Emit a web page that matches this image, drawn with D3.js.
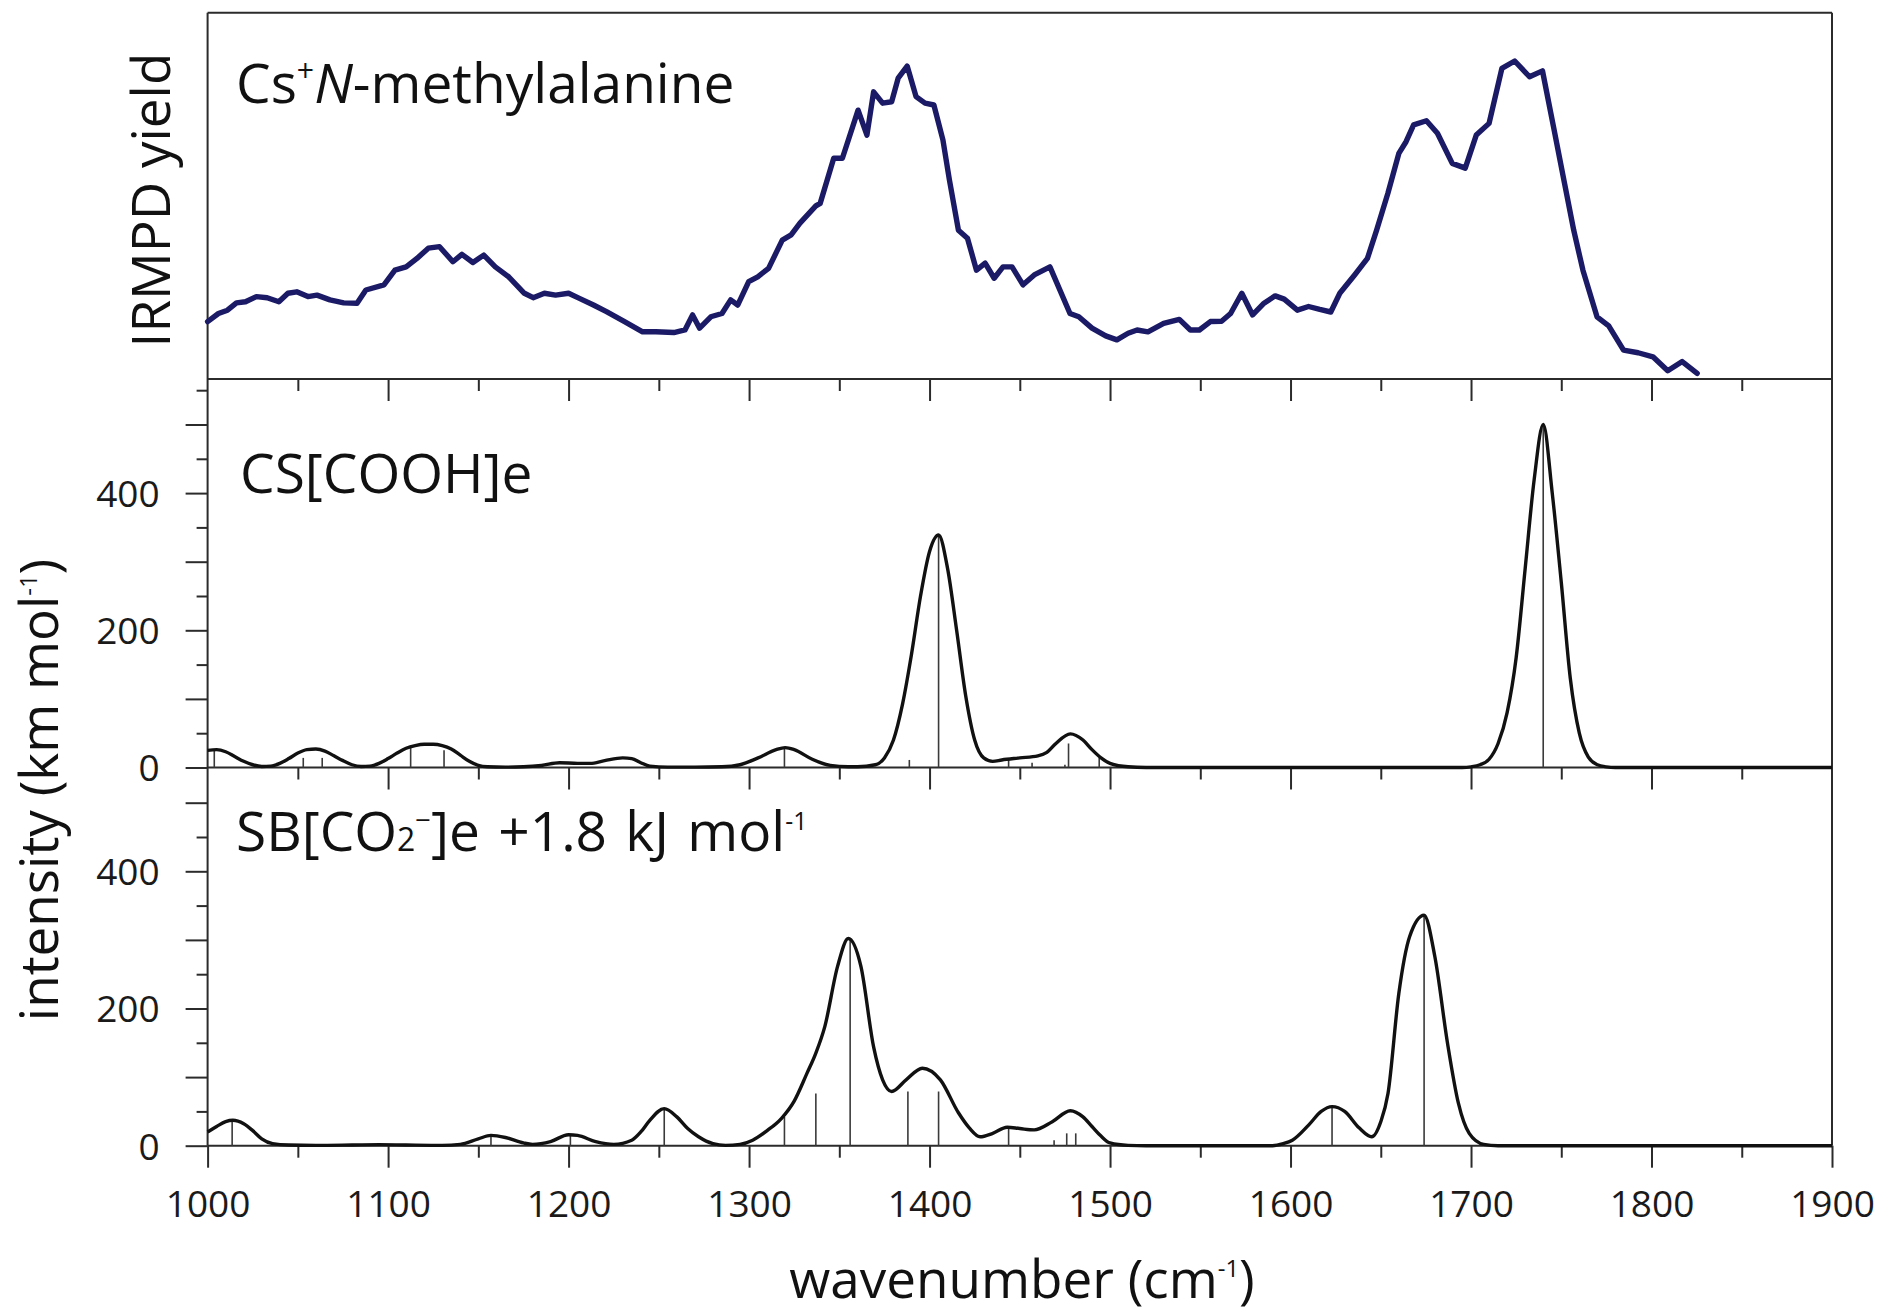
<!DOCTYPE html>
<html>
<head>
<meta charset="utf-8">
<script src="https://cdn.jsdelivr.net/npm/d3@7"></script>
<style>
  body { margin: 0; background: #fff; }
  svg { display: block; font-family: "Open Sans", "Noto Sans", sans-serif; }
</style>
</head>
<body>
<svg id="chart" width="1878" height="1316"></svg>
<script>
// ---- data ----

// experimental IRMPD spectrum: [wavenumber, relative yield]
const irmpd = [
  [1000,0.162],[1006,0.184],[1011,0.193],[1016,0.213],[1021,0.216],[1027,0.23],[1033,0.227],[1039.5,0.216],
  [1044.5,0.239],[1049.4,0.243],[1055.6,0.23],[1060.6,0.234],[1067.8,0.221],[1075.4,0.213],[1082.8,0.212],
  [1087.7,0.248],[1097.7,0.262],[1103.8,0.302],[1110,0.311],[1116,0.334],[1122.3,0.362],[1128.5,0.366],
  [1135.9,0.325],[1140.9,0.345],[1147,0.323],[1153,0.343],[1159.4,0.311],[1166.8,0.284],[1175.5,0.239],
  [1180.4,0.227],[1186.6,0.239],[1192.8,0.234],[1200,0.239],[1206,0.225],[1213.8,0.207],[1221,0.189],
  [1231,0.162],[1241,0.134],[1248.4,0.134],[1258.3,0.132],[1264.5,0.139],[1268.7,0.18],[1272.6,0.144],
  [1278.8,0.175],[1285,0.184],[1289.8,0.221],[1293.7,0.207],[1299.8,0.271],[1304.8,0.284],[1310.8,0.307],
  [1318.4,0.384],[1323.3,0.398],[1328.2,0.43],[1337,0.477],[1339.4,0.484],[1346.9,0.607],[1351.7,0.607],
  [1360.4,0.738],[1365.3,0.67],[1369,0.788],[1374,0.757],[1379,0.761],[1382.6,0.825],[1387.6,0.858],
  [1392.5,0.775],[1397.5,0.757],[1402.4,0.752],[1407.4,0.657],[1411,0.548],[1416,0.411],[1421,0.389],
  [1426,0.302],[1430.8,0.321],[1435.8,0.28],[1440.7,0.311],[1445.7,0.311],[1451.8,0.262],[1458,0.289],
  [1466.7,0.311],[1477.8,0.184],[1482.7,0.175],[1490,0.144],[1497.6,0.123],[1503.8,0.112],[1510,0.13],
  [1515,0.139],[1521,0.134],[1529.7,0.157],[1538.4,0.168],[1544.5,0.139],[1549.5,0.139],[1555.6,0.162],
  [1561.8,0.163],[1566.8,0.184],[1573,0.239],[1579,0.18],[1585.3,0.212],[1591.5,0.232],[1596.5,0.223],
  [1603.8,0.193],[1610,0.203],[1616.2,0.195],[1622.3,0.188],[1627.3,0.239],[1635.5,0.289],[1642.6,0.334],
  [1647.7,0.411],[1653.9,0.511],[1660,0.62],[1664,0.652],[1668.2,0.698],[1675.3,0.709],[1681.4,0.675],
  [1689.6,0.593],[1696.8,0.58],[1702.9,0.67],[1710,0.702],[1717.1,0.852],[1724.2,0.872],[1732.4,0.829],
  [1739.6,0.845],[1745.7,0.693],[1751.8,0.539],[1756.9,0.411],[1762,0.302],[1769.8,0.175],[1776.3,0.15],
  [1784.5,0.084],[1792.6,0.077],[1800.8,0.066],[1809,0.028],[1817,0.053],[1825.3,0.021]
];

// computed spectrum CS[COOH]e: broadened curve and stick intensities (km/mol)
const csCurve = [
  [1000,25],[1005,26],[1010,23],[1015,16],[1020,9],[1025,4],[1030,1.5],[1035,2],[1040,6],[1045,13],[1050,21],
  [1055,26],[1060,27],[1065,24],[1070,17],[1075,10],[1080,4],[1085,1.5],[1090,2],[1095,6],[1100,13],[1105,21],
  [1110,28],[1115,32],[1120,34],[1125,34],[1130,32],[1135,27],[1140,18],[1145,9],[1150,3],[1155,1],[1165,0.5],
  [1175,1],[1185,3],[1195,7],[1205,6],[1212,6],[1220,10],[1230,14],[1235,13],[1240,7],[1245,2],[1255,0.5],
  [1270,0.5],[1285,1],[1295,4],[1305,14],[1315,26],[1320,29],[1325,26],[1335,12],[1345,3],[1355,1],[1360,1],
  [1370,4],[1375,14],[1380,40],[1385,92],[1390,165],[1395,250],[1400,315],[1405,339],[1410,290],[1415,200],
  [1420,105],[1425,40],[1430,14],[1435,9],[1440,11],[1450,14],[1460,17],[1465,22],[1470,35],[1478,49],
  [1485,40],[1490,26],[1495,14],[1500,6],[1510,1],[1520,0],[1695,0],[1700,1],[1705,4],[1710,12],[1715,35],
  [1720,80],[1725,160],[1730,290],[1735,420],[1740,500],[1745,400],[1750,270],[1755,130],[1760,50],
  [1765,15],[1770,4],[1775,1],[1780,0],[1900,0]
];
const csSticks = [
  [1003.7,26],[1053,14],[1063.5,14],[1112.5,31],[1131,25],[1319.6,29],[1388.8,11],[1405,339],
  [1443.8,12],[1456.8,7],[1475,4],[1477,35],[1494,14],[1740,500]
];

// computed spectrum SB[CO2-]e
const sbCurve = [
  [1000,20],[1005,28],[1010,35],[1014,37],[1020,32],[1025,22],[1030,10],[1036,3],[1045,1],[1060,0.5],
  [1080,1],[1095,1.5],[1110,1],[1130,0.5],[1140,2],[1150,10],[1157,15],[1165,12],[1175,4],[1180,2],
  [1190,6],[1200,16],[1205,15],[1215,6],[1225,2],[1235,8],[1240,20],[1245,37],[1253,54],[1260,42],
  [1266,25],[1272,13],[1280,3],[1287,0.5],[1295,2],[1302,8],[1310,22],[1318,40],[1325,65],[1332,105],
  [1337,135],[1342,174],[1349,261],[1355,302],[1362,261],[1369,144],[1374,96],[1379,79],[1387,96],
  [1396,113],[1406,96],[1416,48],[1422,26],[1428,13],[1435,18],[1443,27],[1450,25],[1458,23],[1468,35],
  [1478,51],[1485,42],[1490,28],[1495,14],[1500,4],[1510,0.5],[1520,0],[1590,0],[1596,3],[1601,8],
  [1610,30],[1617,50],[1623,57],[1630,50],[1638,26],[1645,13],[1650,35],[1654,76],[1660,222],[1666,305],
  [1674,336],[1680,275],[1687,149],[1693,62],[1699,18],[1707,2],[1715,0],[1900,0]
];
const sbSticks = [
  [1013.6,37],[1157,15.6],[1201,17],[1253,54.5],[1319.6,42],[1337,76],[1356,302],[1388,79],[1405,79],
  [1443.8,27.7],[1469,8],[1476,18],[1481,18],[1623,57],[1674,336]
];

const xMajor = d3.range(1000, 1901, 100);
const xMinor = d3.range(1050, 1900, 100);
const yMajor = d3.range(0, 551, 100);
const yMinor = d3.range(50, 551, 100);
const yLabels = [0, 200, 400];

// ---- layout ----
const svg = d3.select("#chart");
const ink = "#2b2b2b";

const x = d3.scaleLinear().domain([1000, 1900]).range([207.6, 1832]);
const top1 = 12.7, base1 = 379, base2 = 767.5, base3 = 1145.7;
const pxPerUnit = 0.686;

const yIr = d3.scaleLinear().domain([0, 1]).range([381, 14]);
const y2 = d3.scaleLinear().domain([0, 550]).range([base2, base2 - 550 * pxPerUnit]);
const y3 = d3.scaleLinear().domain([0, 550]).range([base3, base3 - 550 * pxPerUnit]);

// frame
const frame = svg.append("g").attr("stroke", ink).attr("stroke-width", 2);
[top1, base1, base2, base3].forEach(yy => {
  frame.append("line").attr("x1", x(1000)).attr("x2", x(1900)).attr("y1", yy).attr("y2", yy);
});
frame.append("line").attr("x1", x(1000)).attr("x2", x(1000)).attr("y1", top1).attr("y2", base3);
frame.append("line").attr("x1", x(1900)).attr("x2", x(1900)).attr("y1", top1).attr("y2", base3);

function styleAxis(g) {
  g.select(".domain").remove();
  g.selectAll(".tick line").attr("stroke", ink).attr("stroke-width", 2);
  g.selectAll("text").attr("font-family", "Open Sans").attr("font-size", 37).attr("fill", "#1a1a1a");
}

// x ticks at each panel's lower edge, pointing down
[base1, base2, base3].forEach(yy => {
  const last = yy === base3;
  svg.append("g").attr("transform", `translate(0,${yy})`)
    .call(d3.axisBottom(x).tickValues(xMinor).tickSize(12).tickFormat(""))
    .call(styleAxis);
  svg.append("g").attr("transform", `translate(0,${yy})`)
    .call(d3.axisBottom(x).tickValues(last ? xMajor : xMajor.slice(1, -1)).tickSize(22)
      .tickFormat(last ? d3.format("d") : ""))
    .call(styleAxis)
    .call(g => g.selectAll("text").attr("y", 71.3).attr("dy", null));
});

// y ticks for the two computed spectra (panel 3 stops below panel 2's baseline)
[[y2, 550], [y3, 500]].forEach(([ys, maxV]) => {
  svg.append("g").attr("transform", `translate(${x(1000)},0)`)
    .call(d3.axisLeft(ys).tickValues(yMinor.filter(v => v <= maxV)).tickSize(11).tickFormat(""))
    .call(styleAxis);
  svg.append("g").attr("transform", `translate(${x(1000)},0)`)
    .call(d3.axisLeft(ys).tickValues(yMajor.filter(v => v <= maxV)).tickSize(22)
      .tickFormat(v => yLabels.includes(v) ? v : ""))
    .call(styleAxis)
    .call(g => g.selectAll("text").attr("x", -48).attr("dy", "0.36em"));
});

// sticks
function drawSticks(data, ys) {
  svg.append("g").selectAll("line").data(data).join("line")
    .attr("x1", d => x(d[0])).attr("x2", d => x(d[0]))
    .attr("y1", ys(0)).attr("y2", d => ys(d[1]))
    .attr("stroke", "#3a3a3a").attr("stroke-width", 1.6);
}
drawSticks(csSticks, y2);
drawSticks(sbSticks, y3);

// broadened spectra
function drawCurve(data, ys) {
  const line = d3.line().x(d => x(d[0])).y(d => ys(d[1])).curve(d3.curveMonotoneX);
  svg.append("path").datum(data).attr("d", line)
    .attr("fill", "none").attr("stroke", "#111").attr("stroke-width", 3.4)
    .attr("stroke-linejoin", "round");
}
drawCurve(csCurve, y2);
drawCurve(sbCurve, y3);

// experimental trace
svg.append("path").datum(irmpd)
  .attr("d", d3.line().x(d => x(d[0])).y(d => yIr(d[1])))
  .attr("fill", "none").attr("stroke", "#1b1a66").attr("stroke-width", 5.4)
  .attr("stroke-linejoin", "round").attr("stroke-linecap", "round");

// ---- text ----
function richText(parent, parts, size) {
  let shift = 0;
  parts.forEach(p => {
    const ts = parent.append("tspan").text(p.t);
    const target = p.sup ? -0.39 * size : 0;
    if (p.sup || p.sub) ts.attr("font-size", size * (p.scale || 0.45));
    if (p.it) ts.attr("font-style", "italic");
    ts.attr("dy", target - shift);
    shift = target;
  });
}

function label(xx, yy, parts, size, opts = {}) {
  const t = svg.append("text")
    .attr("font-size", size).attr("fill", "#111")
    .attr("text-anchor", opts.anchor || "start")
    .attr("transform", `translate(${xx},${yy})` + (opts.rotate ? " rotate(-90)" : ""));
  if (opts.wordSpacing) t.attr("word-spacing", opts.wordSpacing);
  richText(t, parts, size);
  return t;
}

const titleSize = 55;
label(236, 103, [{t: "Cs"}, {t: "+", sup: true, scale: 0.55}, {t: "N", it: true}, {t: "-methylalanine"}], titleSize);
label(240, 493, [{t: "CS[COOH]e"}], titleSize);
label(236, 851, [{t: "SB[CO"}, {t: "2", sub: true, scale: 0.58}, {t: "\u2212", sup: true, scale: 0.5},
  {t: "]e +1.8 kJ mol"}, {t: "-1", sup: true}], titleSize, {wordSpacing: 4});

label(170, 200, [{t: "IRMPD yield"}], 53, {anchor: "middle", rotate: true});
label(58, 790, [{t: "intensity (km mol"}, {t: "-1", sup: true}, {t: ")"}], 53, {anchor: "middle", rotate: true});
label(1022, 1298, [{t: "wavenumber (cm"}, {t: "-1", sup: true}, {t: ")"}], 53, {anchor: "middle"});
</script>
</body>
</html>
